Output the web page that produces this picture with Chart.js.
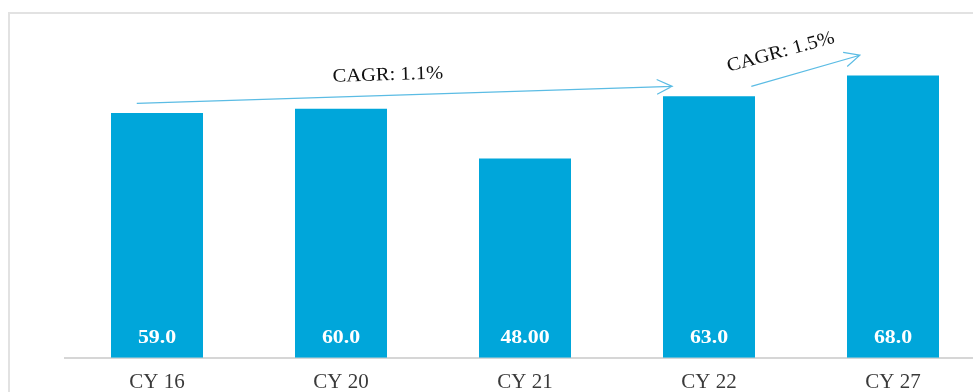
<!DOCTYPE html>
<html lang="en">
<head>
    <meta charset="UTF-8">
    <title>CY market size</title>
    <script src="https://cdn.jsdelivr.net/npm/chart.js"></script>
    <style>
        html, body { margin: 0; padding: 0; background: #fff; overflow: hidden; }
        .frame {
            position: absolute; left: 8px; top: 12px; width: 980px; height: 400px;
            border-top: 2px solid #e2e2e2; border-left: 2px solid #e2e2e2;
        }
        .wrap { position: absolute; left: 0; top: 0; width: 990px; height: 401px; }
    </style>
</head>
<body>
    <div class="frame"></div>
    <div class="wrap"><canvas id="cyChart"></canvas></div>

    <script>
        const years = ['CY 16', 'CY 20', 'CY 21', 'CY 22', 'CY 27'];
        const values = [59.0, 60.0, 48.0, 63.0, 68.0];
        const valueLabels = ['59.0', '60.0', '48.00', '63.0', '68.0'];

        // CAGR arrows: [x index start, y start, x index end, y end] in data units
        const cagrText = ['CAGR: 1.1%', 'CAGR: 1.5%'];
        const cagrArrows = [
            [-0.11, 61.3, 2.80, 65.4],
            [3.23, 65.4, 3.82, 72.9]
        ];
        const cagrTextPos = [[1.255, 68.1], [3.39, 73.6]];

        const blue = 'rgb(0, 166, 218)';
        const serif = "'Liberation Serif', 'DejaVu Serif', serif";

        const barValues = {
            id: 'barValues',
            afterDatasetsDraw(chart) {
                const ctx = chart.ctx;
                const meta = chart.getDatasetMeta(0);
                ctx.save();
                ctx.font = 'bold 19px ' + serif;
                ctx.fillStyle = '#fff';
                ctx.textAlign = 'center';
                ctx.textBaseline = 'middle';
                meta.data.forEach((bar, i) => {
                    ctx.save();
                    ctx.translate(bar.x, bar.base - 20);
                    ctx.scale(1.15, 1);
                    ctx.fillText(valueLabels[i], 0, 0);
                    ctx.restore();
                });
                ctx.restore();
            }
        };

        const cagr = {
            id: 'cagr',
            afterDraw(chart) {
                const ctx = chart.ctx;
                const x = chart.scales.x, y = chart.scales.y;
                ctx.save();
                cagrArrows.forEach((a, i) => {
                    const x1 = x.getPixelForValue(a[0]), y1 = y.getPixelForValue(a[1]);
                    const x2 = x.getPixelForValue(a[2]), y2 = y.getPixelForValue(a[3]);
                    const ang = Math.atan2(y2 - y1, x2 - x1);
                    ctx.strokeStyle = '#5bbce4';
                    ctx.lineWidth = 1.2;
                    ctx.beginPath();
                    ctx.moveTo(x1, y1);
                    ctx.lineTo(x2, y2);
                    ctx.moveTo(x2 - 17 * Math.cos(ang - 0.45), y2 - 17 * Math.sin(ang - 0.45));
                    ctx.lineTo(x2, y2);
                    ctx.lineTo(x2 - 17 * Math.cos(ang + 0.45), y2 - 17 * Math.sin(ang + 0.45));
                    ctx.stroke();

                    const tx = x.getPixelForValue(cagrTextPos[i][0]);
                    const ty = y.getPixelForValue(cagrTextPos[i][1]);
                    ctx.save();
                    ctx.translate(tx, ty);
                    ctx.rotate(i === 0 ? -0.03 : -0.27);
                    ctx.scale(1.08, 1);
                    ctx.font = '19px ' + serif;
                    ctx.fillStyle = '#111';
                    ctx.textAlign = 'center';
                    ctx.textBaseline = 'middle';
                    ctx.fillText(cagrText[i], 0, 0);
                    ctx.restore();
                });
                ctx.restore();
            }
        };

        new Chart(document.getElementById('cyChart'), {
            type: 'bar',
            data: {
                labels: years,
                datasets: [{
                    data: values,
                    backgroundColor: blue,
                    categoryPercentage: 1,
                    barPercentage: 0.5
                }]
            },
            options: {
                responsive: true,
                maintainAspectRatio: false,
                animation: false,
                layout: { padding: { left: 65, right: 5, top: 5, bottom: 2 } },
                plugins: { legend: { display: false }, tooltip: { enabled: false } },
                scales: {
                    x: {
                        grid: { display: false },
                        border: { color: '#d6d6d6', width: 2 },
                        ticks: { color: '#3a3a3a', font: { family: serif, size: 21 }, padding: 4 }
                    },
                    y: {
                        display: false,
                        min: 0,
                        max: 85
                    }
                }
            },
            plugins: [barValues, cagr]
        });
    </script>
</body>
</html>
